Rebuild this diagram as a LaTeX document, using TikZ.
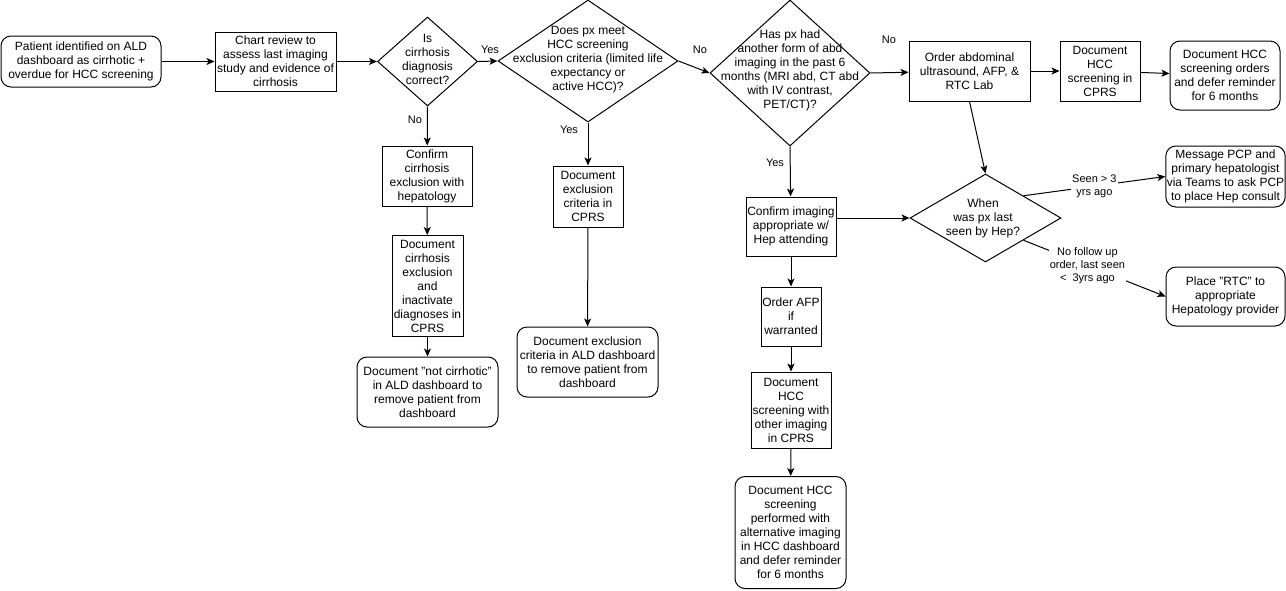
\documentclass[tikz,border=0pt]{standalone}
\usepackage{fontspec}
\setmainfont{Liberation Sans}
\usetikzlibrary{shapes.geometric,arrows.meta}

\begin{document}
\begin{tikzpicture}[x=1pt,y=-1pt,
  font=\fontsize{12}{14}\selectfont,
  box/.style={draw, line width=1pt, align=center, inner sep=1pt},
  rbox/.style={box, rounded corners=10pt},
  dia/.style={draw, diamond, line width=1pt, inner sep=0pt},
  lbl/.style={font=\fontsize{11}{13}\selectfont, inner sep=1pt},
  elbl/.style={lbl, fill=white, align=center},
  >={Stealth[length=8pt,width=7pt,inset=2pt]}]
 \useasboundingbox (0,0) rectangle (1286,590);

 % top row
 \node[rbox, minimum width=160, minimum height=51] (start) at (81,61.5) {Patient identified on ALD\\dashboard as cirrhotic +\\overdue for HCC screening};
 \node[box, minimum width=121, minimum height=59] (chart) at (275.5,61.5) {Chart review to\\assess last imaging\\study and evidence of\\cirrhosis};
 \node[dia, minimum width=100, minimum height=89] (d1) at (427.5,61.5) {};
 \node[align=center] (d1txt) at (427.5,59) {Is\\cirrhosis\\diagnosis\\correct?};
 \node[dia, minimum width=180, minimum height=122] (d2) at (588,61) {};
 \node[align=center] (d2txt) at (588,59.5) {Does px meet\\HCC screening\\exclusion criteria (limited life\\expectancy or\\active HCC)?};
 \node[dia, minimum width=160, minimum height=146] (d3) at (790,73) {};
 \node[align=center] (d3txt) at (790,70.5) {Has px had\\another form of abd\\imaging in the past 6\\months (MRI abd, CT abd\\with IV contrast,\\PET/CT)?};
 \node[box, minimum width=121, minimum height=60] (us) at (969.5,71) {Order abdominal\\ultrasound, AFP, \&\\RTC Lab};
 \node[box, minimum width=80, minimum height=60] (doc) at (1100,71) {Document\\HCC\\screening in\\CPRS};
 \node[rbox, minimum width=110, minimum height=69] (defer) at (1225,75.5) {Document HCC\\screening orders\\and defer reminder\\for 6 months};

 % not cirrhotic
 \node[box, minimum width=90, minimum height=60] (cc) at (427,176) {Confirm\\cirrhosis\\exclusion with\\hepatology};
 \node[box, minimum width=71, minimum height=101] (dce) at (427.5,286) {Document\\cirrhosis\\exclusion\\and\\inactivate\\diagnoses in\\CPRS};
 \node[rbox, minimum width=141, minimum height=70] (nc) at (427.5,392) {Document "not cirrhotic"\\in ALD dashboard to\\remove patient from\\dashboard};

 % exclusion
 \node[box, minimum width=70, minimum height=61] (ex1) at (588,196.5) {Document\\exclusion\\criteria in\\CPRS};
 \node[rbox, minimum width=141, minimum height=70] (ex2) at (587.5,362) {Document exclusion\\criteria in ALD dashboard\\to remove patient from\\dashboard};

 % other imaging
 \node[box, minimum width=90, minimum height=59] (ci) at (791,226.5) {Confirm imaging\\appropriate w/\\Hep attending};
 \node[box, minimum width=60, minimum height=59] (afp) at (791,316.5) {Order AFP\\if\\warranted};
 \node[box, minimum width=80, minimum height=76] (oth) at (791,410) {Document\\HCC\\screening with\\other imaging\\in CPRS};
 \node[rbox, minimum width=111, minimum height=112] (alt) at (790.5,532.5) {Document HCC\\screening\\performed with\\alternative imaging\\in HCC dashboard\\and defer reminder\\for 6 months};

 % hepatology
 \node[dia, minimum width=151, minimum height=88] (hep) at (985.5,218) {};
 \node[align=center] (heptxt) at (983,218) {When\\was px last\\seen by Hep?};
 \node[rbox, minimum width=119, minimum height=61] (msg) at (1225.5,176.5) {Message PCP and\\primary hepatologist\\via Teams to ask PCP\\to place Hep consult};
 \node[rbox, minimum width=119, minimum height=59] (rtc) at (1225.5,296.5) {Place "RTC" to\\appropriate\\Hepatology provider};

 % arrows
 \draw[line width=1pt,->] (start) -- (chart);
 \draw[line width=1pt,->] (chart) -- (d1.west);
 \draw[line width=1pt,->] (d1.east) -- (d2.west) node[lbl] at (490,50) {Yes};
 \draw[line width=1pt,->] (d1.south) -- (cc) node[lbl] at (415,120) {No};
 \draw[line width=1pt,->] (cc) -- (dce);
 \draw[line width=1pt,->] (dce) -- (nc);
 \draw[line width=1pt,->] (d2.south) -- (ex1) node[lbl] at (569,130) {Yes};
 \draw[line width=1pt,->] (ex1) -- (ex2);
 \draw[line width=1pt,->] (d2.east) -- (d3.west) node[lbl] at (700,50) {No};
 \draw[line width=1pt,->] (d3.east) -- (us) node[lbl] at (889,40) {No};
 \draw[line width=1pt,->] (us) -- (doc);
 \draw[line width=1pt,->] (doc) -- (defer);
 \draw[line width=1pt,->] (d3.south) -- (ci) node[lbl] at (775,163) {Yes};
 \draw[line width=1pt,->] (ci) -- (afp);
 \draw[line width=1pt,->] (afp) -- (oth);
 \draw[line width=1pt,->] (oth) -- (alt);
 \draw[line width=1pt,->] (us.south) -- (hep.north);
 \draw[line width=1pt,->] (ci.east |- hep.west) -- (hep.west);
 \draw[line width=1pt,->] (hep.north east) -- (msg.west) node[elbl, pos=0.5] {Seen \textgreater{} 3\\yrs ago};
 \draw[line width=1pt,->] (hep.south east) -- (rtc.west) node[elbl, pos=0.45] {No follow up\\order, last seen\\\textless{}\ \ 3yrs ago};
\end{tikzpicture}
\end{document}
